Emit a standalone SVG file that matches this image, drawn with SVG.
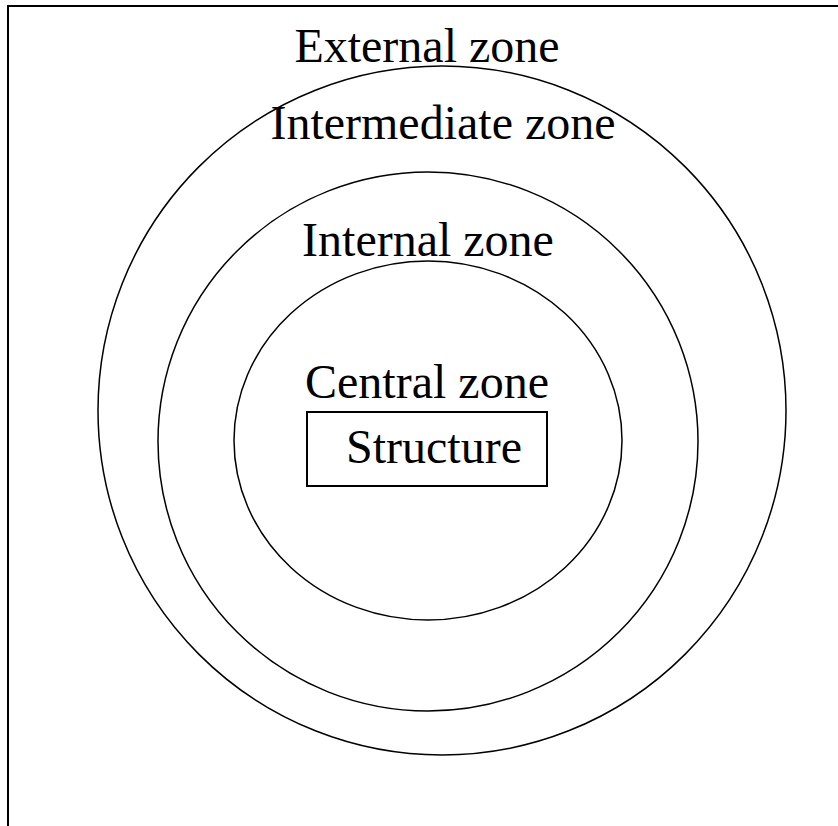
<svg xmlns="http://www.w3.org/2000/svg" width="838" height="826" viewBox="0 0 838 826">
<style>
.zone{fill:none;stroke:#000;stroke-width:1.5}
.lbl{font-family:"Liberation Serif","Times New Roman",serif;font-size:48px;fill:#000;text-anchor:middle}
.frame{fill:none;stroke:#000;stroke-width:2}
</style>
<rect width="838" height="826" fill="#fff"/>
<g id="frame">
<path class="frame" d="M8,826 V6 H838"/>
</g>
<g id="external-zone">
<ellipse class="zone" cx="442" cy="410.5" rx="344" ry="344.5"/>
<text class="lbl" x="427" y="62">External zone</text>
</g>
<g id="intermediate-zone">
<ellipse class="zone" cx="428" cy="441.5" rx="270" ry="269.5"/>
<text class="lbl" x="443" y="139">Intermediate zone</text>
</g>
<g id="internal-zone">
<ellipse class="zone" cx="428" cy="440.5" rx="194" ry="179.5"/>
<text class="lbl" x="428" y="256">Internal zone</text>
</g>
<g id="central-zone">
<text class="lbl" x="427" y="398">Central zone</text>
</g>
<g id="structure">
<rect x="307" y="412" width="240" height="74" fill="none" stroke="#000" stroke-width="2"/>
<text class="lbl" x="434" y="463">Structure</text>
</g>
<g id="connectors"/>
</svg>
